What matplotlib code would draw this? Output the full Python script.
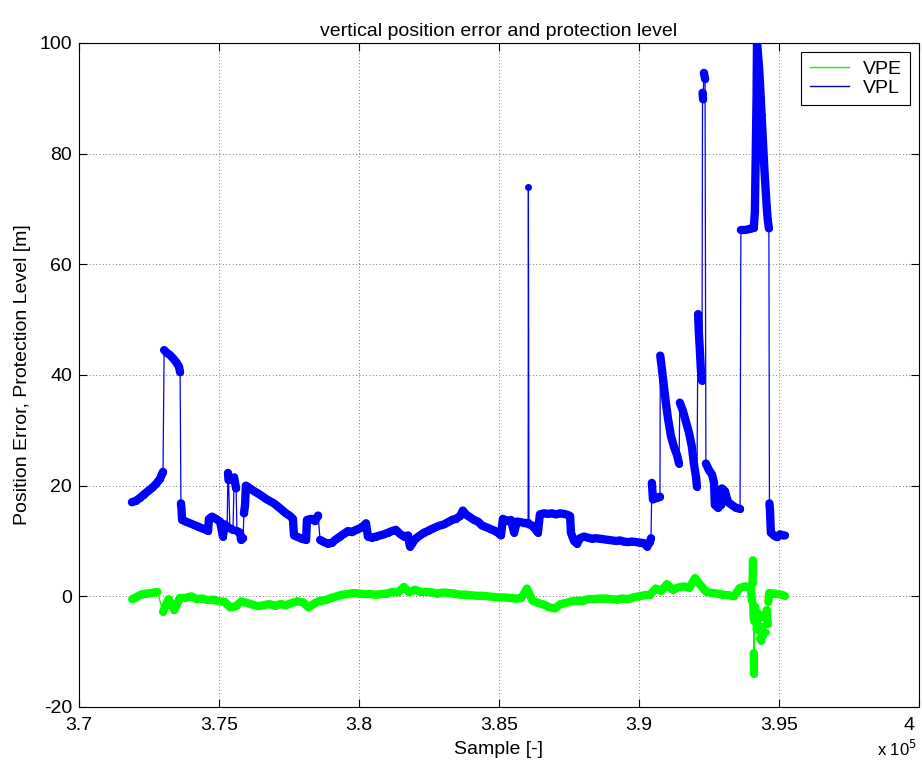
import matplotlib
matplotlib.use("Agg")
import numpy as np
from matplotlib import pyplot as plt
from matplotlib.lines import Line2D
from matplotlib.ticker import FuncFormatter
from matplotlib.transforms import ScaledTranslation

# vertical protection level (sample index, metres)
vpl_x = [371890, 372040, 372180, 372320, 372460, 372610, 372750, 372890, 373000,
         373040, 373140, 373250, 373360, 373460, 373570, 373610,
         373640, 373660, 373680, 373820, 373960, 374110, 374250, 374390, 374540, 374610,
         374640, 374750, 374890, 375040, 375140, 375210, 375290, 375320, 375340,
         375390, 375500, 375540, 375610, 375640, 375750, 375790, 375860, 375890, 375930,
         375960, 376110, 376250, 376390, 376540, 376680, 376820, 376960, 377110, 377250,
         377390, 377540, 377640,
         377680, 377820, 377960, 378110, 378140, 378290, 378430, 378540,
         378610, 378750, 378890, 379040, 379180, 379320, 379460, 379610, 379750, 379890,
         380040, 380180, 380250,
         380320, 380460, 380610, 380750, 380890, 381040, 381180, 381320, 381460, 381610,
         381750, 381820, 381890, 382040, 382180, 382320, 382460, 382610, 382750, 382890,
         383040, 383180, 383320, 383460, 383610, 383710, 383820, 383960, 384110, 384250,
         384390, 384540, 384680, 384820, 384960, 385070,
         385140, 385290, 385430, 385540, 385640, 385790, 385930, 386040, 386050, 386070,
         386180, 386320, 386390,
         386460, 386610, 386750, 386890, 387040, 387180, 387320, 387460, 387540,
         387570, 387680, 387790, 387890, 388040, 388180, 388320, 388460, 388610, 388750,
         388890, 389040, 389180, 389320, 389460, 389610, 389750, 389890, 390040, 390180,
         390290, 390390, 390430,
         390460, 390500, 390640, 390750,
         390760, 390820, 390890, 390960, 391040, 391140, 391250, 391360, 391430,
         391460, 391570, 391680, 391790, 391890, 391960, 392040, 392070,
         392110, 392140, 392180, 392210, 392250,
         392270, 392290, 392320, 392360,
         392390, 392500, 392610, 392680, 392710, 392820, 392930, 392960, 393070, 393180,
         393320, 393460, 393610,
         393640, 393790, 393960, 394100, 394140, 394150, 394160, 394170, 394180, 394190,
         394200, 394205, 394210, 394215,
         394250, 394290, 394320, 394350, 394380, 394410, 394440, 394470, 394500, 394530,
         394560, 394600, 394640,
         394660, 394680, 394710, 394820, 394930, 395040, 395140, 395210]
vpl_y = [17.0, 17.3, 17.8, 18.4, 19.0, 19.6, 20.3, 21.2, 22.5,
         44.5, 44.0, 43.6, 43.0, 42.4, 41.5, 40.5,
         16.8, 15.8, 13.8, 13.5, 13.2, 12.9, 12.6, 12.3, 12.0, 11.8,
         14.0, 14.4, 14.0, 13.5, 10.8, 13.0, 12.5, 22.3, 21.0,
         12.3, 12.0, 21.5, 19.5, 11.8, 11.5, 10.2, 10.5, 15.0, 16.5,
         20.0, 19.5, 19.0, 18.6, 18.1, 17.6, 17.2, 16.8, 16.2, 15.6,
         15.0, 14.5, 14.0,
         11.0, 10.7, 10.4, 10.2, 13.8, 14.0, 13.6, 14.6,
         10.2, 9.8, 9.5, 9.7, 10.3, 10.8, 11.3, 11.8, 11.6, 12.0,
         12.3, 12.8, 13.2,
         10.8, 10.6, 10.8, 11.0, 11.2, 11.5, 11.8, 12.0, 11.3, 10.8,
         11.0, 9.0, 9.5, 10.5, 11.0, 11.5, 11.8, 12.2, 12.5, 12.8,
         13.0, 13.4, 13.8, 14.0, 14.5, 15.5, 14.8, 14.3, 13.8, 13.5,
         12.8, 12.5, 12.2, 11.9, 11.5, 11.0,
         14.0, 13.6, 13.8, 11.5, 13.5, 13.4, 13.2, 13.3, 74.0, 13.0,
         12.8, 12.0, 11.5,
         14.8, 15.0, 14.9, 15.0, 14.8, 15.0, 14.9, 14.7, 14.5,
         11.5, 10.0, 9.5, 10.5, 10.8, 10.6, 10.4, 10.5, 10.4, 10.3,
         10.2, 10.1, 10.0, 10.1, 9.9, 9.8, 9.9, 9.8, 9.7, 9.6,
         9.0, 9.8, 10.5,
         20.5, 17.5, 17.8, 18.0,
         43.5, 41.0, 38.0, 35.0, 32.0, 29.0, 27.0, 25.5, 24.0,
         35.0, 33.5, 31.5, 29.5, 27.0, 24.0, 21.5, 19.8,
         51.0, 47.5, 44.0, 41.0, 39.0,
         91.0, 89.8, 94.6, 93.5,
         24.0, 22.8, 22.0, 20.5, 16.5, 16.0, 16.5, 19.5, 19.0, 17.0,
         16.5, 16.0, 15.8,
         66.2, 66.2, 66.4, 66.6, 69.5, 73.0, 76.5, 80.0, 83.5, 87.0,
         90.5, 94.0, 97.0, 100.0,
         98.0, 95.5, 93.0, 90.0, 87.0, 84.0, 81.0, 78.0, 75.5, 73.0,
         70.5, 68.0, 66.5,
         16.8, 15.5, 11.5, 11.0, 10.7, 11.2, 11.0, 11.0]

# vertical position error
vpe_x = [371900, 372000, 372200, 372400, 372600, 372800, 373000, 373200, 373400,
         373600, 373800, 374000, 374200, 374400, 374600, 374800, 375000, 375200,
         375400, 375600, 375800, 376000, 376200, 376400, 376600, 376800, 377000,
         377200, 377400, 377600, 377800, 378000, 378200, 378400, 378600, 378800,
         379000, 379200, 379400, 379600, 379800, 380000, 380200, 380400, 380600,
         380800, 381000, 381200, 381400, 381600, 381800, 382000, 382200, 382400,
         382600, 382800, 383000, 383200, 383400, 383600, 383800, 384000, 384200,
         384400, 384600, 384800, 385000, 385200, 385400, 385600, 385800, 386000,
         386200, 386400, 386600, 386800, 387000, 387200, 387400, 387600, 387800,
         388000, 388200, 388400, 388600, 388800, 389000, 389200, 389400, 389600,
         389800, 390000, 390200, 390400, 390600, 390800, 391000, 391200, 391400,
         391600, 391800, 392000, 392200, 392400, 392600, 392800, 393000, 393200,
         393400, 393600, 393800, 394000,
         394030, 394055, 394062, 394066, 394070, 394080, 394095, 394100, 394103,
         394106, 394110, 394120, 394160, 394200, 394240, 394280, 394320, 394360,
         394400, 394440, 394480, 394520, 394560, 394600, 394620, 394650,
         394800, 395000, 395200]
vpe_y = [-0.5, -0.3, 0.3, 0.5, 0.6, 0.8, -2.8, -0.5, -2.5,
         -0.3, -0.3, 0.0, -0.5, -0.4, -0.7, -0.6, -0.9, -1.0,
         -2.0, -1.8, -0.9, -1.2, -1.5, -1.8, -1.6, -1.4, -1.7,
         -1.4, -1.6, -1.2, -0.9, -1.1, -2.0, -1.3, -0.8, -0.7,
         -0.3, 0.0, 0.3, 0.4, 0.6, 0.5, 0.4, 0.4, 0.3,
         0.4, 0.5, 0.8, 0.7, 1.7, 0.7, 1.2, 0.8, 0.8,
         0.7, 0.5, 0.7, 0.6, 0.5, 0.3, 0.3, 0.2, 0.1,
         0.1, 0.0, -0.1, -0.2, -0.2, -0.3, -0.4, -0.3, 1.4,
         -0.8, -1.2, -1.5, -2.0, -2.2, -1.4, -1.2, -0.9, -0.8,
         -0.8, -0.5, -0.5, -0.4, -0.4, -0.5, -0.6, -0.4, -0.5,
         -0.2, 0.0, 0.2, 0.3, 1.4, 1.0, 2.2, 1.2, 1.6,
         1.8, 1.5, 3.3, 2.0, 0.8, 0.6, 0.5, 0.3, 0.2,
         0.0, 1.5, 1.8, 1.5,
         -0.8, 2.4, 3.5, 5.0, 6.5, -1.5, -4.0, -10.3, -12.0,
         -13.0, -14.0, -4.5, -2.0, -6.0, -3.0, -7.5, -4.0, -8.0,
         -5.5, -7.0, -3.0, -6.5, -2.5, -5.0, -1.0, 0.6,
         0.5, 0.4, 0.1]

x_ticks = [370000, 375000, 380000, 385000, 390000, 395000, 400000]
y_ticks = [-20, 0, 20, 40, 60, 80, 100]


def draw_series(ax, x, y, color, jump, lw_band):
    """Thin line through everything, thick band where samples are close."""
    x = np.asarray(x, float)
    y = np.asarray(y, float)
    ax.plot(x, y, "-", color=color, lw=0.9, zorder=3)
    cuts = np.where(np.abs(np.diff(y)) > jump)[0] + 1
    for xs, ys in zip(np.split(x, cuts), np.split(y, cuts)):
        if len(xs) > 1:
            ax.plot(xs, ys, "-", color=color, lw=lw_band,
                    solid_capstyle="round", solid_joinstyle="round", zorder=3)
    ax.plot(x, y, "o", color=color, ms=5, mew=0, zorder=3)


plt.rcParams["font.family"] = ["Liberation Sans", "DejaVu Sans"]
plt.rcParams["font.size"] = 14

fig = plt.figure(figsize=(9.22, 7.62), dpi=100)
ax = fig.add_axes([0.0857, 0.0722, 0.911, 0.8714])

draw_series(ax, vpe_x, vpe_y, (0, 1, 0), 3.0, 6.0)
draw_series(ax, vpl_x, vpl_y, (0, 0, 1), 4.0, 6.0)

ax.set_xlim(370000, 400000)
ax.set_ylim(-20, 100)
ax.set_xticks(x_ticks)
ax.set_yticks(y_ticks)
ax.xaxis.set_major_formatter(FuncFormatter(lambda v, p: "%g" % (v / 1e5)))
ax.yaxis.set_major_formatter(FuncFormatter(lambda v, p: "%d" % v))
ax.tick_params(direction="in", length=6, top=True, right=True, labelsize=14)
ax.tick_params(axis="x", pad=7)
ax.tick_params(axis="y", pad=5)
ax.grid(True, linestyle=(0, (1, 3)), color="k", linewidth=0.6, alpha=0.7)
for s in ax.spines.values():
    s.set_linewidth(0.8)

# last x label sits against the figure edge, nudge it inwards
fig.canvas.draw()
last = ax.get_xticklabels()[-1]
last.set_transform(last.get_transform()
                   + ScaledTranslation(-10 / 100, 0, fig.dpi_scale_trans))

ax.set_title("vertical position error and protection level", fontsize=14, pad=5)
ax.set_xlabel("Sample [-]", fontsize=14, labelpad=5)
ax.set_ylabel("Position Error, Protection Level [m]", fontsize=14, labelpad=6)
fig.text(0.951, 0.017, "x 10$^5$", fontsize=12, va="center")

handles = [Line2D([], [], color=(0, 1, 0), lw=1),
           Line2D([], [], color=(0, 0, 0.75), lw=1)]
leg = ax.legend(handles, ["VPE", "VPL"], loc="upper right", fontsize=14,
                fancybox=False, framealpha=1, edgecolor="k",
                borderaxespad=0.45, handlelength=2.0, handletextpad=0.7,
                labelspacing=0.05, borderpad=0.45)
leg.get_frame().set_linewidth(0.8)

plt.savefig("out.png", dpi=100)
